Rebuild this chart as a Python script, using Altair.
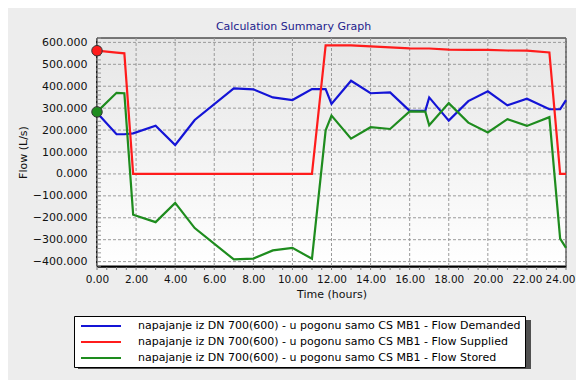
import altair as alt
import pandas as pd

# ---- data ----
times = [0, 1.0, 1.4, 1.85, 3, 4, 5, 7, 8, 9, 10, 11, 11.7, 12, 13, 14, 15, 16,
         16.8, 17, 18, 19, 20, 21, 22, 23.15, 23.7, 24]
demanded = [279, 181, 181, 185, 220, 132, 246, 390, 386, 349, 337, 387, 387, 319,
            425, 368, 372, 288, 288, 349, 243, 332, 377, 313, 343, 295, 295, 337]
supplied = [562, 553, 550, 0, 0, 0, 0, 0, 0, 0, 0, 0, 586, 586, 586, 582, 577, 573,
            572, 572, 567, 566, 566, 563, 562, 554, 0, 0]
stored = [283, 370, 368, -186, -220, -132, -247, -390, -386, -349, -337, -387, 199,
          266, 161, 213, 205, 285, 284, 222, 323, 234, 189, 250, 219, 259, -295, -337]

prefix = "napajanje iz DN 700(600) - u pogonu samo CS MB1 - "
series_names = [prefix + "Flow Demanded", prefix + "Flow Supplied", prefix + "Flow Stored"]
series_colors = ["#1414d6", "#ff1c1c", "#1e8c1e"]

x_ticks = list(range(0, 25, 2))
y_ticks = list(range(-400, 601, 100))
x_minor = [i / 2 for i in range(0, 49)]
y_minor = list(range(-420, 621, 20))

rows = []
for name, vals in zip(series_names, [demanded, supplied, stored]):
    for i, (t, v) in enumerate(zip(times, vals)):
        rows.append({"time": t, "flow": v, "series": name, "idx": i})
df = pd.DataFrame(rows)

W, H = 469, 228
FONT = "DejaVu Sans"

xscale = alt.Scale(domain=[0, 24], nice=False, zero=False)
yscale = alt.Scale(domain=[-420, 620], nice=False, zero=False)
xaxis = alt.Axis(values=x_ticks, format=".2f", title="Time (hours)",
                 labelOverlap=False, labelFlush=False, labelFontSize=10.5,
                 labelOffset={"condition": {"test": "datum.value == 24", "value": -6},
                              "value": 0})
yaxis = alt.Axis(values=y_ticks, format=".3f", title="Flow (L/s)",
                 labelOverlap=False, labelFlush=False)

one = pd.DataFrame({"a": [0]})

plot_bg = alt.Chart(one).mark_rect(
    fill={"gradient": "linear", "x1": 0, "y1": 0, "x2": 0, "y2": 1,
          "stops": [{"offset": 0, "color": "#e6e6e6"}, {"offset": 1, "color": "#ffffff"}]},
    stroke="black", strokeWidth=1
).encode(x=alt.value(0), x2=alt.value(W), y=alt.value(0), y2=alt.value(H))

legend_shadow = alt.Chart(one).mark_rect(fill="#505050").encode(
    x=alt.value(-19), x2=alt.value(434), y=alt.value(282), y2=alt.value(331))

vgrid = alt.Chart(pd.DataFrame({"time": x_ticks})).mark_rule(
    color="#9a9a9a", strokeWidth=1, strokeDash=[3, 2]
).encode(x=alt.X("time:Q", scale=xscale, axis=xaxis))

hgrid = alt.Chart(pd.DataFrame({"flow": y_ticks})).mark_rule(
    color="#9a9a9a", strokeWidth=1, strokeDash=[3, 2]
).encode(y=alt.Y("flow:Q", scale=yscale, axis=yaxis))

xminor = alt.Chart(pd.DataFrame({"time": x_minor})).mark_rule(
    color="#777777", strokeWidth=1
).encode(x=alt.X("time:Q", scale=xscale, axis=xaxis),
         y=alt.value(H + 1), y2=alt.value(H + 4))

yminor = alt.Chart(pd.DataFrame({"flow": y_minor})).mark_rule(
    color="#999999", strokeWidth=1
).encode(y=alt.Y("flow:Q", scale=yscale, axis=yaxis),
         x=alt.value(1), x2=alt.value(4))

color_scale = alt.Scale(domain=series_names, range=series_colors)

lines = alt.Chart(df).mark_line(strokeWidth=2.2).encode(
    x=alt.X("time:Q", scale=xscale, axis=xaxis),
    y=alt.Y("flow:Q", scale=yscale, axis=yaxis),
    color=alt.Color("series:N", scale=color_scale, sort=series_names,
                    legend=alt.Legend(
                        orient="none", legendX=-23, legendY=278, title=None,
                        symbolType="M-4,0H4", symbolSize=100, symbolStrokeWidth=2,
                        labelFont=FONT, labelFontSize=11, labelColor="black",
                        labelLimit=600, labelOffset=31, symbolOffset=17,
                        strokeColor="black", fillColor="white", padding=4,
                        rowPadding=5)),
    order="idx:Q",
)

points = alt.Chart(df).transform_filter(
    (alt.datum.time == 0) & (alt.datum.series != series_names[0])
).mark_point(filled=True, size=110, stroke="#333333", strokeWidth=1, opacity=1).encode(
    x=alt.X("time:Q", scale=xscale, axis=xaxis),
    y=alt.Y("flow:Q", scale=yscale, axis=yaxis),
    color=alt.Color("series:N", scale=color_scale, legend=None),
)

chart = alt.layer(plot_bg, legend_shadow, vgrid, hgrid, xminor, yminor, lines, points).properties(
    width=W, height=H,
    title=alt.Title("Calculation Summary Graph", color="#22228c", fontSize=11,
                    fontWeight="normal", font=FONT, anchor="middle", dx=-38, offset=4),
    autosize=alt.AutoSizeParams(type="none"),
    padding={"left": 89, "top": 30, "right": 10, "bottom": 114},
    background="#ededed",
).configure_view(stroke=None).configure_axis(
    grid=False, ticks=False, domainColor="black", domainWidth=2.5,
    labelFont=FONT, labelFontSize=11, labelColor="#111111",
    titleFont=FONT, titleFontSize=11, titleFontWeight="normal", titleColor="#111111",
    zindex=1,
).configure_axisY(labelPadding=10, titlePadding=4).configure_axisX(
    labelPadding=8, titlePadding=4)

chart.save("out.html", embed_options={"renderer": "svg", "actions": False})
